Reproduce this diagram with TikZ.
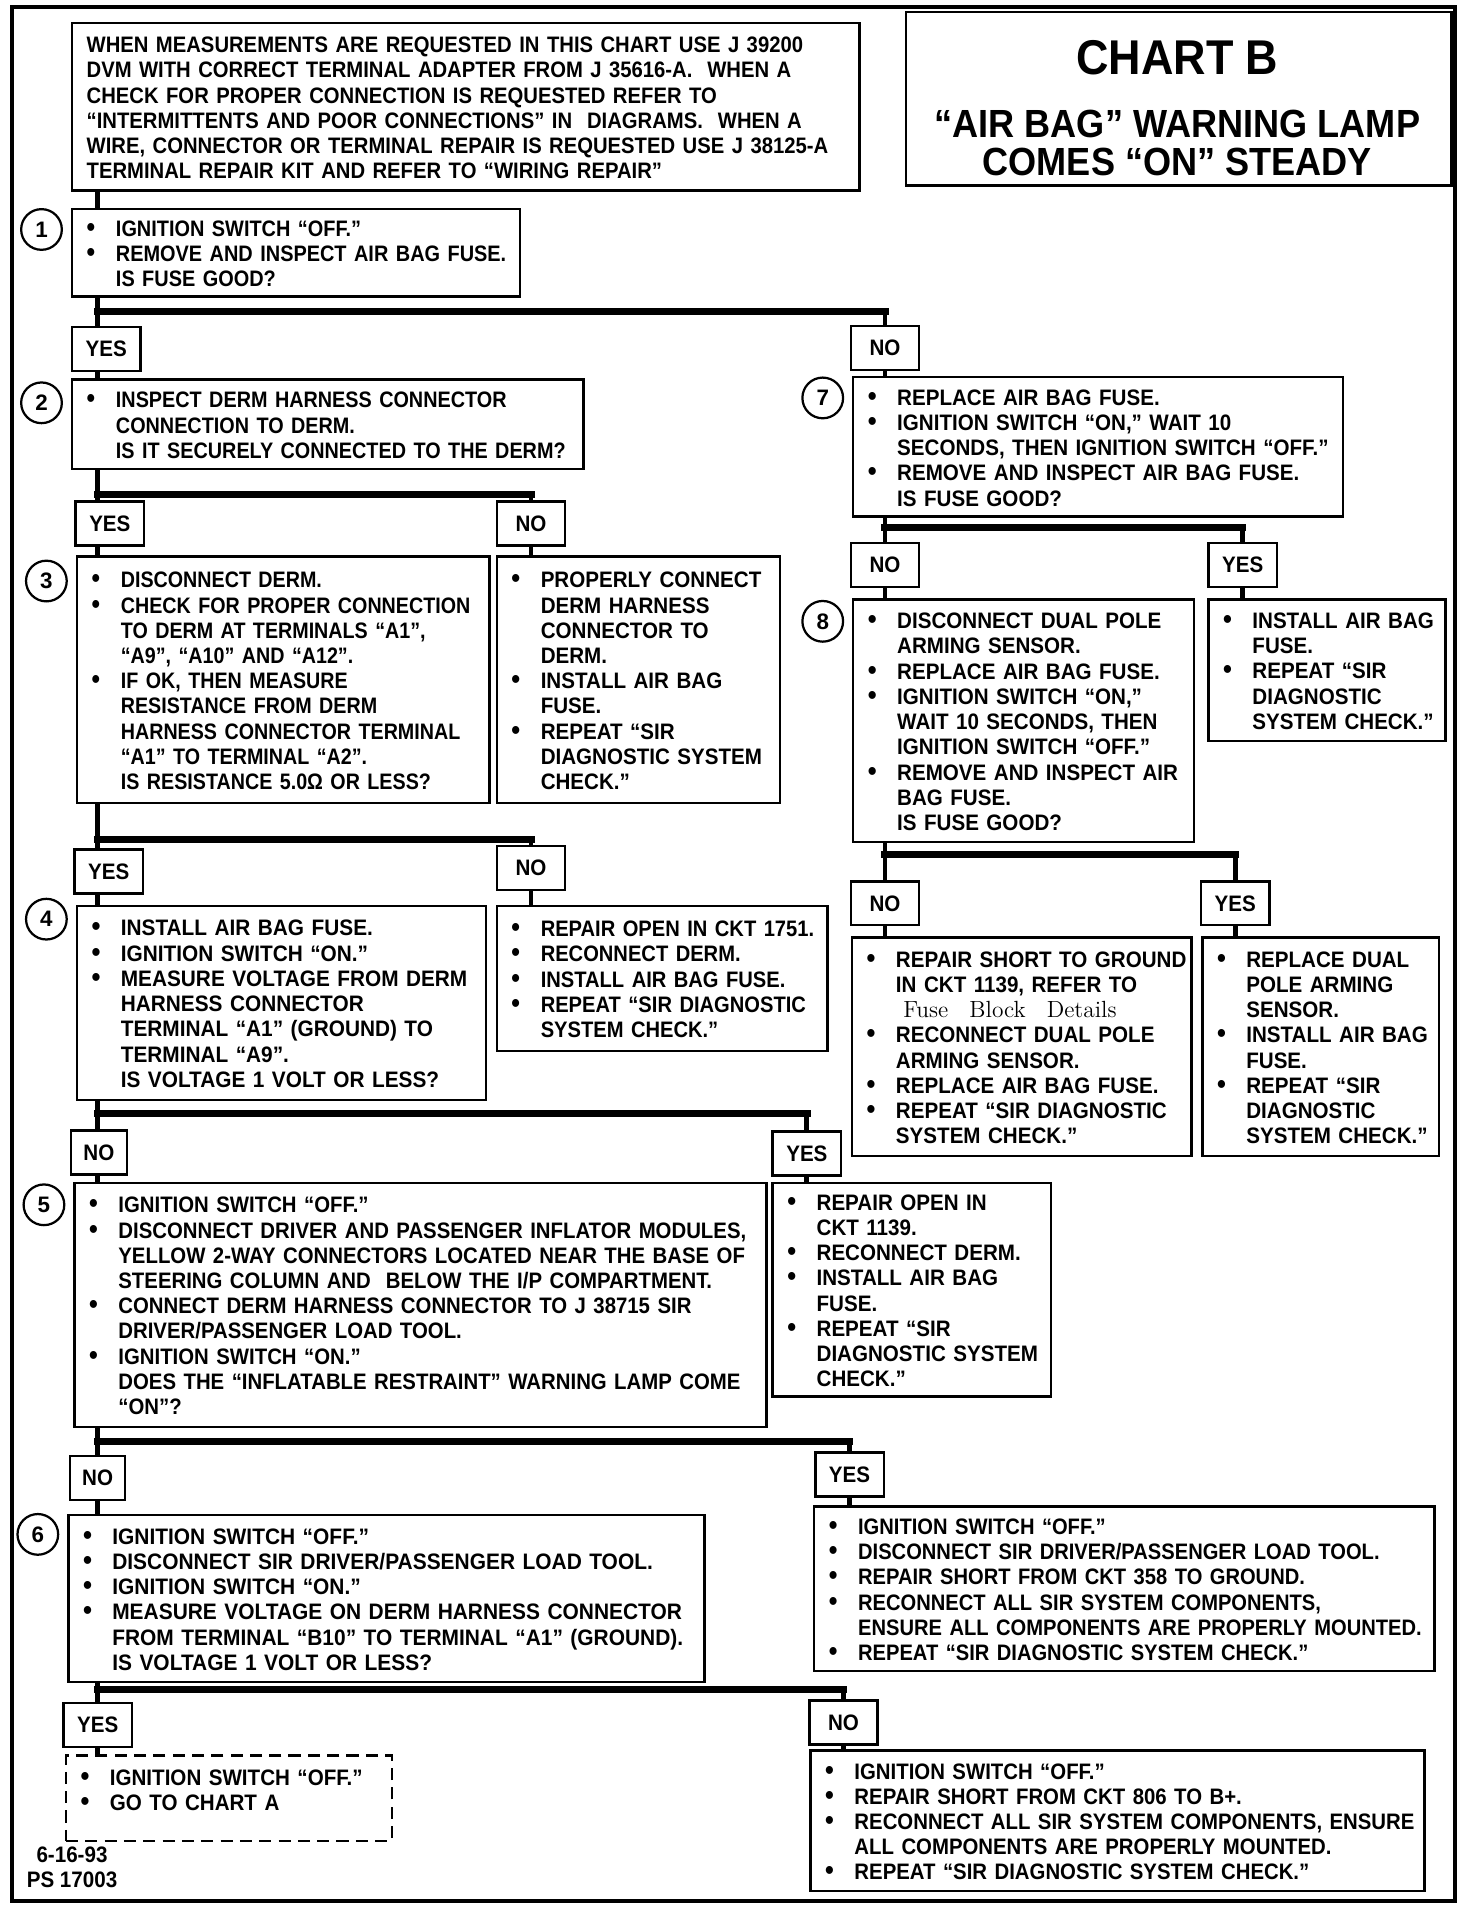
\documentclass[tikz,border=0pt]{standalone}
\usepackage{fontspec}
\usetikzlibrary{positioning}
\newfontfamily\chartfont{Liberation Sans}
\newcommand{\bul}[1]{\par\noindent\hbox{\makebox[14.4pt][l]{\fontsize{13.5}{12}\selectfont\textbullet}#1}}
\newcommand{\cont}[1]{\par\noindent\hbox{\hspace*{14.4pt}#1}}
\newcommand{\plain}[1]{\par\noindent\hbox{#1}}
\tikzset{
  txt/.style={font=\chartfont\addfontfeature{FakeStretch=#1}\bfseries\fontsize{11}{12.4}\selectfont},
  txt/.default=0.92,
  stepbox/.style 2 args={txt,draw,line width=1.2pt,anchor=north west,inner xsep=7.2pt,inner ysep=0pt,
    minimum width=#1*0.6pt,minimum height=#2*0.6pt,text width=#1*0.6pt-14.4pt,align=left,
    execute at begin node=\vspace*{-3.6pt}},
  ans/.style={txt,draw,line width=1.2pt,minimum width=#1*0.6pt,minimum height=21.6pt,inner sep=0pt},
  ans/.default=56,
  num/.style={circle,draw,line width=1.1pt,minimum size=20pt,inner sep=0pt,
    font=\chartfont\bfseries\fontsize{11}{12}\selectfont},
  flow/.style={line width=2.4pt},
  bar/.style={line width=3.6pt,line cap=rect},
  head/.style={font=\chartfont\addfontfeature{FakeStretch=0.92}\bfseries\fontsize{#1}{#1}\selectfont,
    anchor=base,inner sep=0pt},
}
\begin{document}
\begin{tikzpicture}[x=0.6pt,y=-0.6pt]
  \useasboundingbox (0,0) rectangle (1206,1568);
  \draw[line width=2pt] (10,6) rectangle (1192,1557);

  % heading
  \node[stepbox={645}{137},txt=0.905] (note) at (58,18) {
    \plain{WHEN MEASUREMENTS ARE REQUESTED IN THIS CHART USE J 39200}
    \plain{DVM WITH CORRECT TERMINAL ADAPTER FROM J 35616-A.\ \ WHEN A}
    \plain{CHECK FOR PROPER CONNECTION IS REQUESTED REFER TO}
    \plain{“INTERMITTENTS AND POOR CONNECTIONS” IN\ \ DIAGRAMS.\ \ WHEN A}
    \plain{WIRE, CONNECTOR OR TERMINAL REPAIR IS REQUESTED USE J 38125-A}
    \plain{TERMINAL REPAIR KIT AND REFER TO “WIRING REPAIR”}};
  \node[draw,line width=1.2pt,anchor=north west,minimum width=447*0.6pt,minimum height=142*0.6pt] (title) at (741,9) {};
  \node[head=24] (chart) at (964.5,61) {CHART B};
  \node[head=19.3] (lamp) at (964.5,113) {“AIR BAG” WARNING LAMP};
  \node[head=19.3] (steady) at (964.5,144) {COMES “ON” STEADY};

  % left column
  \node[stepbox={367}{72},txt=0.89] (s1) at (58,170) {
    \bul{IGNITION SWITCH “OFF.”}
    \bul{REMOVE AND INSPECT AIR BAG FUSE.}
    \cont{IS FUSE GOOD?}};
  \node[stepbox={419}{73},txt=0.885] (s2) at (58,310) {
    \bul{INSPECT DERM HARNESS CONNECTOR}
    \cont{CONNECTION TO DERM.}
    \cont{IS IT SECURELY CONNECTED TO THE DERM?}};
  \node[stepbox={338}{202},txt=0.88] (s3) at (62,455) {
    \bul{DISCONNECT DERM.}
    \bul{CHECK FOR PROPER CONNECTION}
    \cont{TO DERM AT TERMINALS “A1”,}
    \cont{“A9”, “A10” AND “A12”.}
    \bul{IF OK, THEN MEASURE}
    \cont{RESISTANCE FROM DERM}
    \cont{HARNESS CONNECTOR TERMINAL}
    \cont{“A1” TO TERMINAL “A2”.}
    \cont{IS RESISTANCE 5.0Ω OR LESS?}};
  \node[stepbox={232}{202}] (r3) at (406,455) {
    \bul{PROPERLY CONNECT}
    \cont{DERM HARNESS}
    \cont{CONNECTOR TO}
    \cont{DERM.}
    \bul{INSTALL AIR BAG}
    \cont{FUSE.}
    \bul{REPEAT “SIR}
    \cont{DIAGNOSTIC SYSTEM}
    \cont{CHECK.”}};
  \node[stepbox={335}{159},txt=0.93] (s4) at (62,741) {
    \bul{INSTALL AIR BAG FUSE.}
    \bul{IGNITION SWITCH “ON.”}
    \bul{MEASURE VOLTAGE FROM DERM}
    \cont{HARNESS CONNECTOR}
    \cont{TERMINAL “A1” (GROUND) TO}
    \cont{TERMINAL “A9”.}
    \cont{IS VOLTAGE 1 VOLT OR LESS?}};
  \node[stepbox={271}{119},txt=0.9] (r4) at (406,741) {
    \bul{REPAIR OPEN IN CKT 1751.}
    \bul{RECONNECT DERM.}
    \bul{INSTALL AIR BAG FUSE.}
    \bul{REPEAT “SIR DIAGNOSTIC}
    \cont{SYSTEM CHECK.”}};
  \node[stepbox={567}{200},txt=0.91] (s5) at (60,968) {
    \bul{IGNITION SWITCH “OFF.”}
    \bul{DISCONNECT DRIVER AND PASSENGER INFLATOR MODULES,}
    \cont{YELLOW 2-WAY CONNECTORS LOCATED NEAR THE BASE OF}
    \cont{STEERING COLUMN AND\ \ BELOW THE I/P COMPARTMENT.}
    \bul{CONNECT DERM HARNESS CONNECTOR TO J 38715 SIR}
    \cont{DRIVER/PASSENGER LOAD TOOL.}
    \bul{IGNITION SWITCH “ON.”}
    \cont{DOES THE “INFLATABLE RESTRAINT” WARNING LAMP COME}
    \cont{“ON”?}};
  \node[stepbox={228}{175}] (r5) at (632,968) {
    \bul{REPAIR OPEN IN}
    \cont{CKT 1139.}
    \bul{RECONNECT DERM.}
    \bul{INSTALL AIR BAG}
    \cont{FUSE.}
    \bul{REPEAT “SIR}
    \cont{DIAGNOSTIC SYSTEM}
    \cont{CHECK.”}};
  \node[stepbox={521}{137},txt=0.935] (s6) at (55,1240) {
    \bul{IGNITION SWITCH “OFF.”}
    \bul{DISCONNECT SIR DRIVER/PASSENGER LOAD TOOL.}
    \bul{IGNITION SWITCH “ON.”}
    \bul{MEASURE VOLTAGE ON DERM HARNESS CONNECTOR}
    \cont{FROM TERMINAL “B10” TO TERMINAL “A1” (GROUND).}
    \cont{IS VOLTAGE 1 VOLT OR LESS?}};
  \node[stepbox={508}{135},txt=0.9] (r6) at (666,1233) {
    \bul{IGNITION SWITCH “OFF.”}
    \bul{DISCONNECT SIR DRIVER/PASSENGER LOAD TOOL.}
    \bul{REPAIR SHORT FROM CKT 358 TO GROUND.}
    \bul{RECONNECT ALL SIR SYSTEM COMPONENTS,}
    \cont{ENSURE ALL COMPONENTS ARE PROPERLY MOUNTED.}
    \bul{REPEAT “SIR DIAGNOSTIC SYSTEM CHECK.”}};
  \node[stepbox={267}{70},dash pattern=on 6pt off 3.5pt] (fin) at (53,1437) {
    \bul{IGNITION SWITCH “OFF.”}
    \bul{GO TO CHART A\rule[-9pt]{0pt}{9pt}}};
  \node[stepbox={503}{115},txt=0.91] (r7) at (663,1433) {
    \bul{IGNITION SWITCH “OFF.”}
    \bul{REPAIR SHORT FROM CKT 806 TO B+.}
    \bul{RECONNECT\ ALL SIR\ SYSTEM COMPONENTS, ENSURE}
    \cont{ALL COMPONENTS ARE PROPERLY\ MOUNTED.}
    \bul{REPEAT “SIR DIAGNOSTIC SYSTEM\ CHECK.”}};

  % right column
  \node[stepbox={401}{114}] (s7) at (698,308) {
    \bul{REPLACE AIR BAG FUSE.}
    \bul{IGNITION SWITCH “ON,” WAIT 10}
    \cont{SECONDS, THEN IGNITION SWITCH “OFF.”}
    \bul{REMOVE AND INSPECT AIR BAG FUSE.}
    \cont{IS FUSE GOOD?}};
  \node[stepbox={279}{199}] (s8) at (698,490) {
    \bul{DISCONNECT DUAL POLE}
    \cont{ARMING SENSOR.}
    \bul{REPLACE AIR BAG FUSE.}
    \bul{IGNITION SWITCH “ON,”}
    \cont{WAIT 10 SECONDS, THEN}
    \cont{IGNITION SWITCH “OFF.”}
    \bul{REMOVE AND INSPECT AIR}
    \cont{BAG FUSE.}
    \cont{IS FUSE GOOD?}};
  \node[stepbox={194}{116}] (r8) at (989,490) {
    \bul{INSTALL AIR BAG}
    \cont{FUSE.}
    \bul{REPEAT “SIR}
    \cont{DIAGNOSTIC}
    \cont{SYSTEM CHECK.”}};
  \node[stepbox={278}{179}] (s9) at (697,767) {
    \bul{REPAIR SHORT TO GROUND}
    \cont{IN CKT 1139, REFER TO}
    \cont{\normalfont\fontsize{11.5}{12.4}\selectfont\ Fuse\hspace{0.9em}Block\hspace{0.9em}Details}
    \bul{RECONNECT DUAL POLE}
    \cont{ARMING SENSOR.}
    \bul{REPLACE AIR BAG FUSE.}
    \bul{REPEAT “SIR DIAGNOSTIC}
    \cont{SYSTEM CHECK.”}};
  \node[stepbox={194}{179}] (r9) at (984,767) {
    \bul{REPLACE DUAL}
    \cont{POLE ARMING}
    \cont{SENSOR.}
    \bul{INSTALL AIR BAG}
    \cont{FUSE.}
    \bul{REPEAT “SIR}
    \cont{DIAGNOSTIC}
    \cont{SYSTEM CHECK.”}};

  % answers
  \node[ans] (yes1) at (87,286) {YES};
  \node[ans] (no1) at (725,285) {NO};
  \node[ans] (yes2) at (90,429) {YES};
  \node[ans] (no2) at (435,429) {NO};
  \node[ans] (yes3) at (89,714) {YES};
  \node[ans] (no3) at (435,711) {NO};
  \node[ans=46] (no4) at (81,944) {NO};
  \node[ans] (yes4) at (661,945) {YES};
  \node[ans=45] (no5) at (80,1211) {NO};
  \node[ans] (yes5) at (696,1208) {YES};
  \node[ans] (yes6) at (80,1413) {YES};
  \node[ans] (no6) at (691,1411) {NO};
  \node[ans] (no7) at (725,463) {NO};
  \node[ans] (yes7) at (1018,463) {YES};
  \node[ans] (no8) at (725,740) {NO};
  \node[ans] (yes8) at (1012,740) {YES};

  \foreach \n/\xx/\yy in {1/34/188,2/34/330,3/38/476,4/38/753,5/36/987,6/31/1257,7/674/326,8/674/509}
    \node[num] (c\n) at (\xx,\yy) {\n};

  \node[txt,align=center,inner sep=0pt] (stamp) at (59,1530) {6-16-93\\PS 17003};

  % connectors
  \coordinate (trunk) at (80,0);
  \draw[flow] (note.south -| trunk) -- (s1.north -| trunk);
  \foreach \src/\yb/\la/\lb/\na/\nb/\tx in {
      s1/255/yes1/no1/s2/s7/trunk,
      s2/405/yes2/no2/s3/r3/trunk,
      s3/688/yes3/no3/s4/r4/trunk,
      s4/912/no4/yes4/s5/r5/trunk,
      s5/1181/no5/yes5/s6/r6/trunk,
      s6/1384/yes6/no6/fin/r7/trunk,
      s7/432/no7/yes7/s8/r8/no7,
      s8/700/no8/yes8/s9/r9/no8}
  {
    \draw[flow] (\src.south -| \tx) -- (\la.north -| \tx);
    \draw[bar] (\tx |- 0,\yb) -- (\lb |- 0,\yb);
    \draw[flow] (\lb |- 0,\yb) -- (\lb.north);
    \draw[flow] (\la.south -| \tx) -- (\na.north -| \tx);
    \draw[flow] (\lb.south) -- (\nb.north -| \lb);
  }
\end{tikzpicture}
\end{document}
